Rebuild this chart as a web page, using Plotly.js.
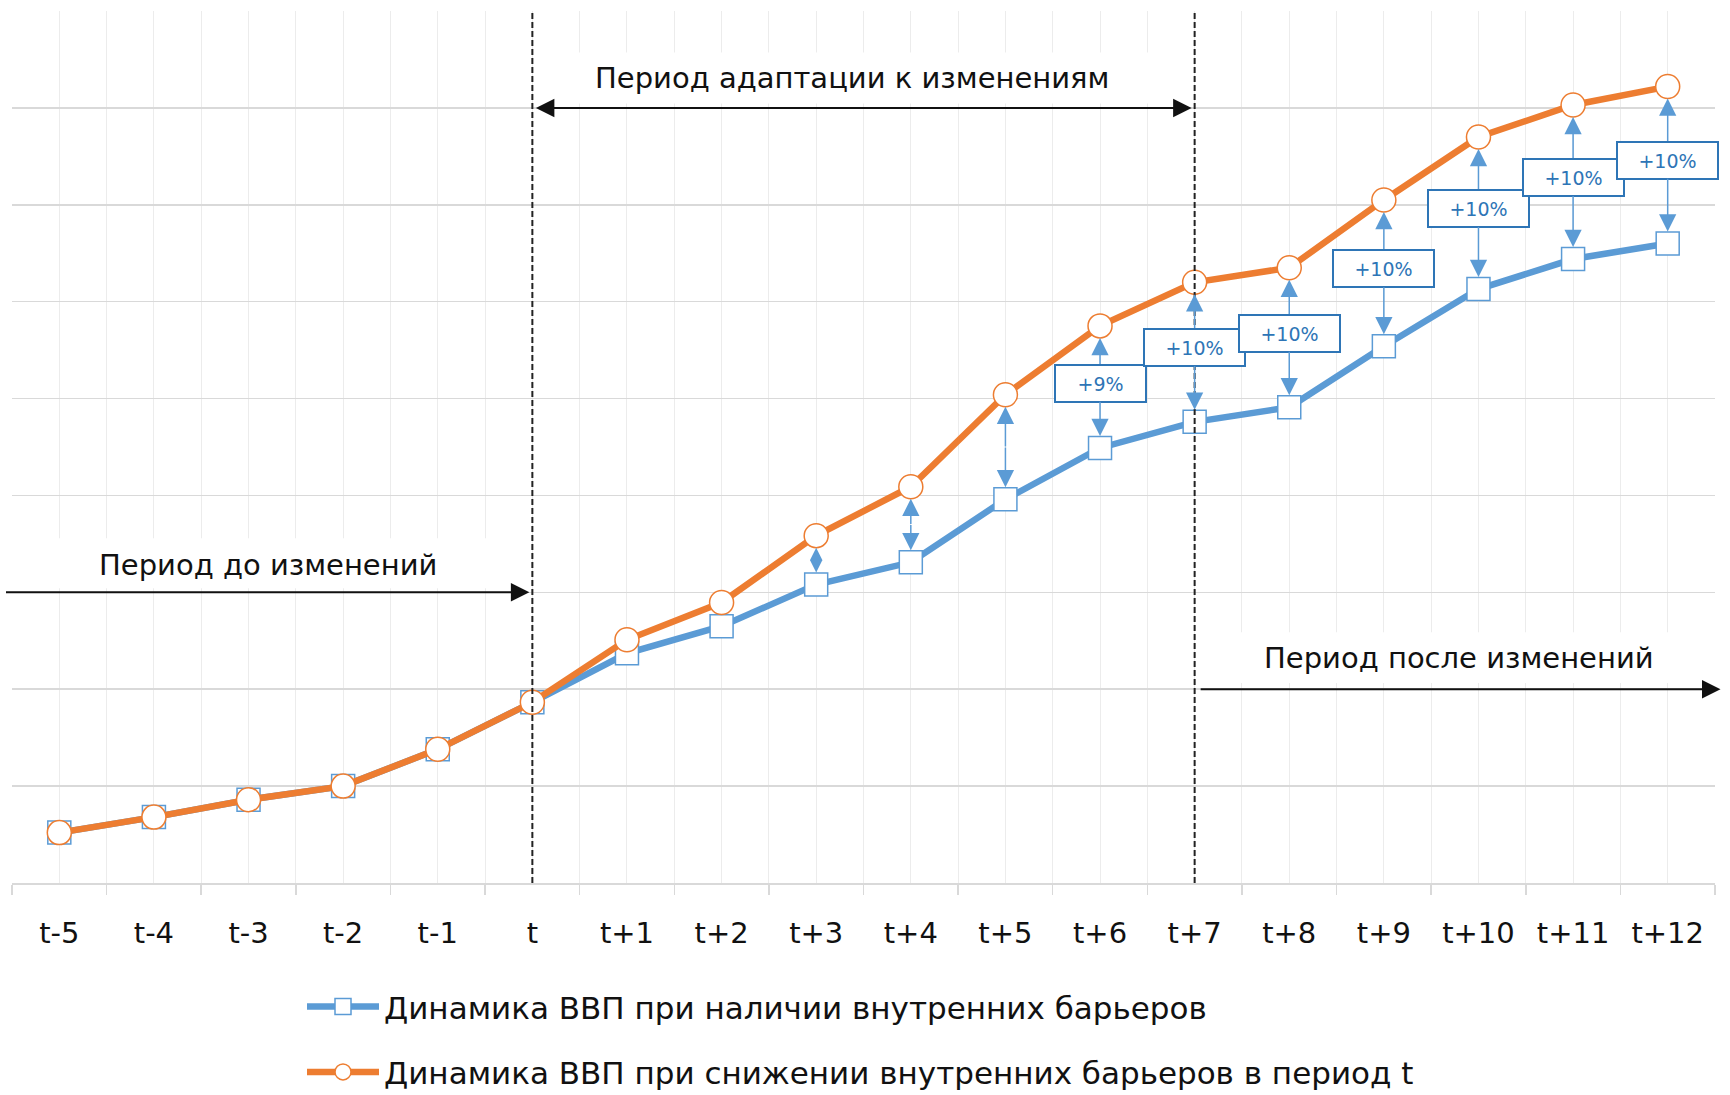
<!DOCTYPE html>
<html><head><meta charset="utf-8">
<script src="https://cdn.plot.ly/plotly-3.0.1.min.js"></script>
<style>html,body{margin:0;padding:0;background:#fff}#chart{width:1730px;height:1095px}</style>
</head><body><div id="chart"></div>
<script>
// ---- data ----
const categories = ['t-5','t-4','t-3','t-2','t-1','t','t+1','t+2','t+3','t+4','t+5','t+6','t+7','t+8','t+9','t+10','t+11','t+12'];
const gdpWithBarriers    = [0.52,0.68,0.86,1.00,1.38,1.865,2.37,2.65,3.08,3.31,3.96,4.49,4.76,4.91,5.54,6.13,6.44,6.60];
const gdpReducedBarriers = [0.52,0.68,0.86,1.00,1.38,1.865,2.51,2.895,3.585,4.09,5.04,5.75,6.20,6.35,7.05,7.70,8.03,8.22];
const gapLabels = [null,null,null,null,null,null,null,null,'','','','+9%','+10%','+10%','+10%','+10%','+10%','+10%'];
const seriesNames = ['Динамика ВВП при наличии внутренних барьеров','Динамика ВВП при снижении внутренних барьеров в период t'];
const periodLabels = ['Период до изменений','Период адаптации к изменениям','Период после изменений'];
const periodBounds = ['t','t+7'];

// ---- geometry helpers ----
const W = 1730, H = 1095, L = 12, R = 15, T = 10.5, B = 212;
const plotW = W - L - R, plotH = H - T - B;
const nCat = categories.length, yMax = 9;
const pxPerUnit = plotH / yMax;
const pxX = px => (px - L) / plotW;            // pixel -> paper x
const pxY = py => (H - B - py) / plotH;        // pixel -> paper y
const catPx = i => L + (i + 0.5) * plotW / nCat;
const dataX = px => (px - L) / (plotW / nCat) - 0.5;
const dataY = py => (H - B - py) / pxPerUnit;

const xIdx = categories.map((c, i) => i);
const iT = categories.indexOf(periodBounds[0]);
const iT7 = categories.indexOf(periodBounds[1]);

const BLUE = '#5B9BD5', ORANGE = '#ED7D31', LABEL_BLUE = '#2E75B6', TXT = '#111';
const FONT = 'DejaVu Sans';

const traces = [
  {x: xIdx, y: gdpWithBarriers, type: 'scatter', mode: 'lines+markers', name: seriesNames[0], legendgroup: 'a',
   line: {color: BLUE, width: 6.5}, marker: {symbol: 'square', size: 23, color: '#fff', line: {color: BLUE, width: 1.5}}},
  {x: xIdx, y: gdpReducedBarriers, type: 'scatter', mode: 'lines+markers', name: seriesNames[1], legendgroup: 'b',
   line: {color: ORANGE, width: 6.5}, marker: {symbol: 'circle', size: 24, color: '#fff', line: {color: ORANGE, width: 1.5}}}
];

// white boxes behind the period texts (pixel boxes converted to data space)
function whiteBox(x0, x1, y0, y1) {
  return {type: 'rect', xref: 'x', yref: 'y', x0: dataX(x0), x1: dataX(x1), y0: dataY(y1), y1: dataY(y0),
          fillcolor: '#fff', line: {width: 0}, layer: 'between'};
}
const dashLine = {color: '#222', width: 2, dash: '6px,3px'};
const shapes = [
  whiteBox(0, 502, 538, 588),
  whiteBox(545, 1150, 52, 103),
  whiteBox(1204, 1716, 632, 683),
  {type: 'line', xref: 'x', yref: 'paper', x0: iT, x1: iT, y0: 0, y1: 1, layer: 'above', line: dashLine},
  {type: 'line', xref: 'x', yref: 'paper', x0: iT7, x1: iT7, y0: 0, y1: 1, layer: 'above', line: dashLine}
];

const annotations = [];
// period texts
const textFont = {family: FONT, size: 29, color: TXT};
const txt = (px, py, s) => ({xref: 'paper', yref: 'paper', x: pxX(px), y: pxY(py), xanchor: 'center', yanchor: 'middle',
                             text: s, showarrow: false, font: textFont});
annotations.push(txt(268, 565, periodLabels[0]));
annotations.push(txt(852, 78, periodLabels[1]));
annotations.push(txt(1459, 658, periodLabels[2]));
// period arrows
const blackArrow = {showarrow: true, arrowcolor: TXT, arrowwidth: 2, arrowhead: 2, arrowsize: 1.85,
                    startarrowhead: 2, startarrowsize: 1.85, text: '', font: {size: 1}, borderpad: 0};
annotations.push(Object.assign({}, blackArrow, {xref: 'x', yref: 'y', x: iT, y: 3, axref: 'pixel', ayref: 'pixel',
  ax: -(catPx(iT) - 5.5), ay: 0, standoff: 3}));
annotations.push(Object.assign({}, blackArrow, {xref: 'x', yref: 'y', x: iT7, y: 8, axref: 'x', ayref: 'y',
  ax: iT, ay: 8, arrowside: 'end+start', standoff: 3, startstandoff: 3}));
annotations.push(Object.assign({}, blackArrow, {xref: 'x', yref: 'y', x: iT7, y: 2, axref: 'pixel', ayref: 'pixel',
  ax: 1721 - catPx(iT7), ay: 0, arrowside: 'start', standoff: 6}));

// gap arrows between the two series
const ARROW_W = 1.5, HEAD_SIZE = 2.3, MARKER_GAP = 12;
const gapArrow = {showarrow: true, arrowcolor: BLUE, arrowwidth: ARROW_W, arrowhead: 2,
                  xref: 'x', yref: 'y', axref: 'x', ayref: 'y', standoff: MARKER_GAP};
gapLabels.forEach((lab, i) => {
  if (lab === null) return;
  const top = gdpReducedBarriers[i], bot = gdpWithBarriers[i];
  if (lab === '') {
    // unlabelled double arrow: two half arrows from the middle, heads shrink to fit short gaps
    const mid = (top + bot) / 2;
    const freePx = (top - bot) * pxPerUnit - 2 * MARKER_GAP;
    const size = Math.min(HEAD_SIZE, freePx / (2 * 5 * ARROW_W));
    const tiny = {text: '', font: {size: 1}, borderpad: 0, arrowsize: size};
    annotations.push(Object.assign({}, gapArrow, tiny, {x: i, y: top, ax: i, ay: mid}));
    annotations.push(Object.assign({}, gapArrow, tiny, {x: i, y: bot, ax: i, ay: mid}));
  } else {
    const boxY = bot + 0.53 * (top - bot);
    const box = {text: lab, bgcolor: '#fff', bordercolor: LABEL_BLUE, borderwidth: 2, borderpad: 2, arrowsize: HEAD_SIZE,
                 width: lab.length > 3 ? 95 : 85, height: 31, font: {family: FONT, size: 19, color: LABEL_BLUE}};
    annotations.push(Object.assign({}, gapArrow, box, {x: i, y: top, ax: i, ay: boxY}));
    annotations.push(Object.assign({}, gapArrow, box, {x: i, y: bot, ax: i, ay: boxY}));
  }
});

const layout = {
  width: W, height: H,
  margin: {l: L, r: R, t: T, b: B, autoexpand: false},
  paper_bgcolor: '#fff', plot_bgcolor: '#fff',
  font: {family: FONT, color: TXT},
  showlegend: true,
  legend: {orientation: 'v', x: pxX(302), xanchor: 'left', y: pxY(980), yanchor: 'top',
           font: {family: FONT, size: 31, color: TXT}, bgcolor: 'rgba(0,0,0,0)',
           tracegroupgap: 22, itemwidth: 72, traceorder: 'grouped'},
  xaxis: {type: 'linear', range: [-0.5, nCat - 0.5], tickmode: 'array', tickvals: xIdx, ticktext: categories,
          showgrid: true, gridcolor: '#ececec', gridwidth: 1, ticks: '', showline: true, linecolor: '#d9d9d9',
          linewidth: 1.5, zeroline: false, tickfont: {family: FONT, size: 29, color: TXT}, ticklabelstandoff: 24,
          minor: {tickmode: 'linear', tick0: -0.5, dtick: 1, showgrid: true, gridcolor: '#ececec', gridwidth: 1,
                  ticks: 'outside', ticklen: 10, tickcolor: '#d9d9d9', tickwidth: 1.5},
          automargin: false, fixedrange: true},
  yaxis: {range: [0, yMax], tickmode: 'linear', tick0: 0, dtick: 1, showgrid: true, gridcolor: '#d9d9d9',
          gridwidth: 1.5, showticklabels: false, ticks: '', zeroline: false, showline: false,
          automargin: false, fixedrange: true},
  shapes: shapes,
  annotations: annotations
};

Plotly.newPlot('chart', traces, layout, {staticPlot: true, displayModeBar: false});
</script>
</body></html>
